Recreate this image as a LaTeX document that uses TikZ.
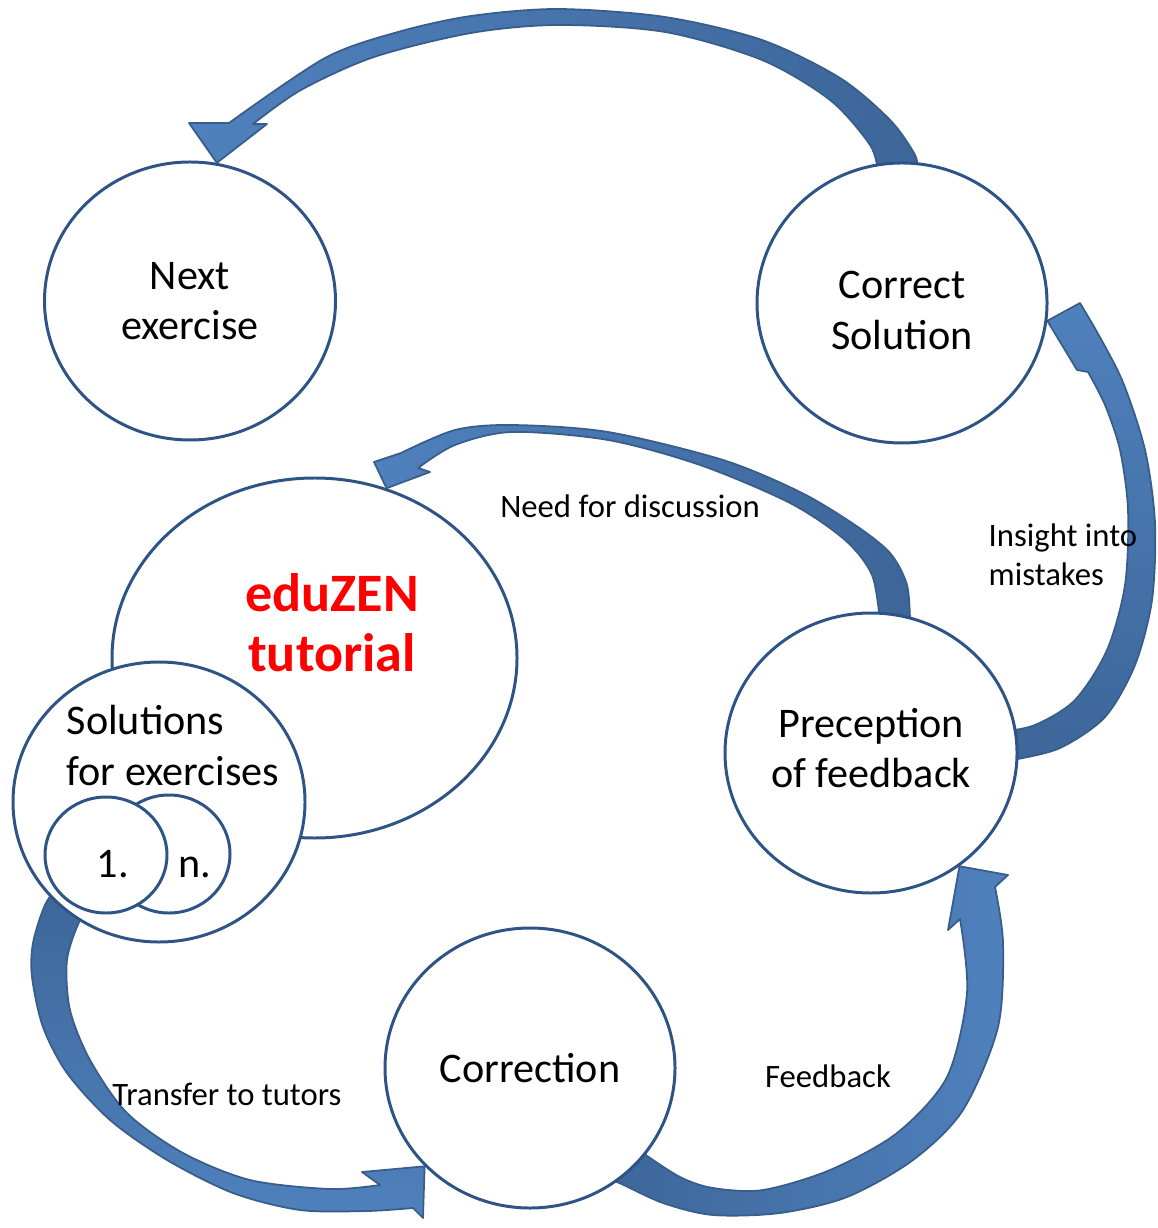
\documentclass[tikz,border=0pt]{standalone}
\usepackage{fontspec}
\setmainfont{Carlito}
\usetikzlibrary{shapes.geometric,backgrounds}

\definecolor{ringblue}{HTML}{2E5486}
\definecolor{arrowlight}{HTML}{4F81BD}
\definecolor{arrowdark}{HTML}{3D6699}
\definecolor{arrowedge}{HTML}{385D8A}

\begin{document}
\begin{tikzpicture}
        \tikzstyle{stage}=[ellipse,draw=ringblue,line width=0.85pt,fill=white,inner sep=0pt,align=center,font=\fontsize{12}{14.4}\selectfont]
        \tikzstyle{caption}=[inner sep=0pt,align=left,font=\fontsize{9.3}{11.1}\selectfont]
        \tikzstyle{blockarrow}=[draw=arrowedge,line width=0.5pt,line join=round]

        \useasboundingbox (0,0) rectangle (11.57,-12.28);

        % tutorial with the submitted solutions on top of it
        \node[stage,minimum width=4.05cm,minimum height=3.60cm] (tut) at (3.145,-6.58) {};
        \node[stage,minimum width=2.92cm,minimum height=2.80cm] (sol) at (1.59,-8.02) {};
        \node[stage,minimum width=1.22cm,minimum height=1.18cm] (many) at (1.69,-8.54) {};
        \node[stage,minimum width=1.22cm,minimum height=1.16cm] (one) at (1.06,-8.55) {};

        \node[inner sep=0pt,align=center,text=red,font=\fontsize{15.4}{17}\selectfont\bfseries] (tuttext) at (3.32,-6.23) {eduZEN\\tutorial};
        \node[inner sep=0pt,align=left,anchor=west,font=\fontsize{12}{14.5}\selectfont] (soltext) at (0.66,-7.455) {Solutions\\for exercises};
        \node[inner sep=0pt,font=\fontsize{12}{14.4}\selectfont] (onetext) at (1.13,-8.645) {1.};
        \node[inner sep=0pt,font=\fontsize{12}{14.4}\selectfont] (manytext) at (1.95,-8.67) {n.};

        % steps of the cycle
        \node[stage,minimum width=2.91cm,minimum height=2.78cm] (next) at (1.90,-3.01) {Next\\exercise};
        \node[stage,minimum width=2.90cm,minimum height=2.80cm] (corsol) at (9.02,-3.03) {\rule{0pt}{12pt}Correct\\Solution};
        \node[stage,minimum width=2.92cm,minimum height=2.80cm] (pref) at (8.71,-7.53) {Preception\\of feedback\rule[-3pt]{0pt}{3pt}};
        \node[stage,minimum width=2.90cm,minimum height=2.80cm] (corr) at (5.30,-10.68) {Correction};

        \node[caption] (needtext) at (6.30,-5.06) {Need for discussion};
        \node[caption,anchor=west] (insighttext) at (9.88,-5.55) {Insight into\\mistakes};
        \node[caption] (transfertext) at (2.27,-10.94) {Transfer to tutors};
        \node[caption] (feedbacktext) at (8.28,-10.76) {Feedback};

        \begin{scope}[on background layer]
        % corsol -> next
        \path[blockarrow,left color=arrowlight,right color=arrowdark]
          plot[smooth] coordinates {(9.17,-1.72) (9.15,-1.55) (8.90,-1.20) (8.40,-0.78) (7.62,-0.40) (6.65,-0.17) (5.58,-0.09) (4.71,-0.16) (3.98,-0.32) (3.25,-0.58) (2.29,-1.23)}
          -- (1.89,-1.23) -- (next.79) -- (2.67,-1.24)
          -- plot[smooth] coordinates {(2.53,-1.24) (3.01,-0.90) (3.74,-0.57) (4.71,-0.33) (5.58,-0.25) (6.65,-0.32) (7.62,-0.60) (8.30,-1.00) (8.70,-1.45) (8.78,-1.72)}
          -- cycle;
        % pref -> tut
        \path[blockarrow,left color=arrowlight,right color=arrowdark]
          plot[smooth] coordinates {(9.10,-6.22) (9.07,-5.85) (8.90,-5.53) (8.55,-5.25) (8.00,-4.92) (7.23,-4.60) (6.08,-4.32) (5.12,-4.25) (4.55,-4.30) (4.01,-4.53)}
          -- (3.74,-4.62) -- (tut.67) -- (4.30,-4.72)
          -- plot[smooth] coordinates {(4.18,-4.68) (4.55,-4.45) (5.12,-4.32) (6.08,-4.40) (7.00,-4.65) (7.90,-5.03) (8.45,-5.40) (8.72,-5.75) (8.80,-6.22)}
          -- cycle;
        % sol -> corr
        \path[blockarrow,top color=arrowdark,bottom color=arrowlight]
          plot[smooth] coordinates {(0.62,-8.80) (0.45,-9.05) (0.33,-9.43) (0.32,-9.77) (0.43,-10.27) (0.67,-10.73) (1.10,-11.20) (1.67,-11.60) (2.33,-11.93) (3.00,-12.10) (3.67,-12.11) (4.13,-12.08)}
          -- (4.23,-12.18) -- (corr.223) -- (3.62,-11.72)
          -- plot[smooth] coordinates {(3.80,-11.85) (3.30,-11.89) (2.50,-11.80) (1.83,-11.53) (1.27,-11.13) (0.90,-10.60) (0.70,-10.10) (0.67,-9.60) (0.80,-9.20) (0.95,-9.00)}
          -- cycle;
        % corr -> pref
        \path[blockarrow,left color=arrowdark,right color=arrowlight]
          plot[smooth] coordinates {(6.00,-11.78) (6.17,-11.82) (6.63,-12.03) (7.13,-12.15) (7.80,-12.13) (8.47,-11.97) (9.13,-11.60) (9.63,-11.10) (9.98,-10.27) (10.03,-9.43) (9.95,-8.87)}
          -- (10.08,-8.75) -- (pref.-52) -- (9.48,-9.30)
          -- plot[smooth] coordinates {(9.60,-9.19) (9.67,-9.93) (9.47,-10.77) (8.97,-11.33) (8.30,-11.70) (7.63,-11.90) (7.13,-11.88) (6.80,-11.77) (6.43,-11.53) (6.35,-11.45)}
          -- cycle;
        % pref -> corsol
        \path[blockarrow,top color=arrowlight,bottom color=arrowdark]
          plot[smooth] coordinates {(10.00,-7.62) (10.13,-7.60) (10.60,-7.48) (11.05,-7.17) (11.35,-6.65) (11.52,-6.00) (11.55,-5.23) (11.45,-4.50) (11.22,-3.80) (10.93,-3.25)}
          -- (10.80,-3.03) -- (corsol.-7) -- (10.77,-3.70)
          -- plot[smooth] coordinates {(10.88,-3.72) (11.05,-4.05) (11.20,-4.50) (11.28,-5.10) (11.25,-5.85) (11.07,-6.50) (10.75,-7.00) (10.35,-7.25) (10.00,-7.32)}
          -- cycle;
        \end{scope}
\end{tikzpicture}
\end{document}
